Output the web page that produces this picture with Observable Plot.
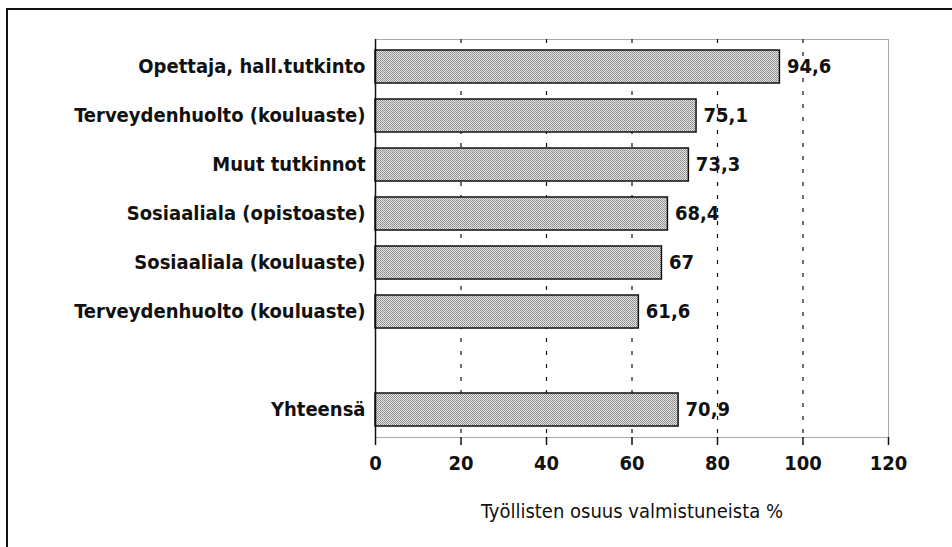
<!DOCTYPE html>
<html><head><meta charset="utf-8">
<script src="https://cdn.jsdelivr.net/npm/d3@7"></script>
<script src="https://cdn.jsdelivr.net/npm/@observablehq/plot@0.6"></script>
<style>
html,body{margin:0;padding:0;background:#fff;overflow:hidden;}
#wrap{position:relative;width:952px;height:547px;}
#box{position:absolute;left:6px;top:8px;width:1000px;height:600px;border-left:2px solid #111;border-top:2px solid #111;}
#chart{position:absolute;left:0;top:0;}
#chart g[aria-label="x-axis label"] text, #chart g[aria-label="x-axis label"]{font-weight:normal;}
</style></head><body><div id="wrap"><div id="box"></div><div id="chart"></div></div>
<script>
const categories = ["Opettaja, hall.tutkinto","Terveydenhuolto (kouluaste)","Muut tutkinnot","Sosiaaliala (opistoaste)","Sosiaaliala (kouluaste)","Terveydenhuolto (kouluaste)","","Yhteensä"];
const values = [94.6, 75.1, 73.3, 68.4, 67, 61.6, null, 70.9];
const xTicks = [0, 20, 40, 60, 80, 100, 120];
const gridTicks = [20, 40, 60, 80, 100];
const axisTitle = "Työllisten osuus valmistuneista %";

const data = categories.map((c, i) => ({key: String(i), label: c, value: values[i]}));
const bars = data.filter(d => d.value != null);
const fmt = v => String(v).replace(".", ",");
const font = "'DejaVu Sans Condensed', 'DejaVu Sans', sans-serif";

const chart = Plot.plot({
  width: 952, height: 547,
  marginLeft: 375, marginRight: 64, marginTop: 39, marginBottom: 110,
  style: {fontFamily: font, fontSize: "20px", fontWeight: "bold", color: "#111", background: "transparent"},
  x: {domain: [0, 120], ticks: xTicks},
  y: {domain: data.map(d => d.key), paddingInner: 0.32, paddingOuter: 0.16, align: 0.5},
  marks: [
    Plot.frame({stroke: "#555", strokeWidth: 1, strokeDasharray: "1,1"}),
    Plot.ruleX(gridTicks, {stroke: "#111", strokeWidth: 1.2, strokeDasharray: "4,9"}),
    Plot.barX(bars, {y: "key", x: "value", fill: "url(#stip)", stroke: "#111", strokeWidth: 1.5}),
    Plot.text(bars, {y: "key", x: "value", text: d => fmt(d.value), textAnchor: "start", dx: 7, fontSize: 20, fill: "#111"}),
    Plot.ruleX([0], {stroke: "#111", strokeWidth: 1.5}),
    Plot.axisY({tickSize: 0, tickPadding: 10, fontSize: 20, label: null, tickFormat: k => categories[+k]}),
    Plot.axisX({anchor: "bottom", ticks: xTicks, tickSize: 8, tickPadding: 10, fontSize: 20, line: true, strokeWidth: 1.5,
      label: axisTitle, labelAnchor: "center", labelOffset: 80, labelArrow: "none"})
  ]
});

const ns = "http://www.w3.org/2000/svg";
const defs = document.createElementNS(ns, "defs");
defs.innerHTML = '<pattern id="stip" width="2" height="2" patternUnits="userSpaceOnUse"><rect width="2" height="2" fill="#e4e4e4"/><rect width="1" height="1" fill="#8a8a8a"/><rect x="1" y="1" width="1" height="1" fill="#9a9a9a"/></pattern>';
chart.insertBefore(defs, chart.firstChild);
document.getElementById("chart").appendChild(chart);
</script></body></html>
